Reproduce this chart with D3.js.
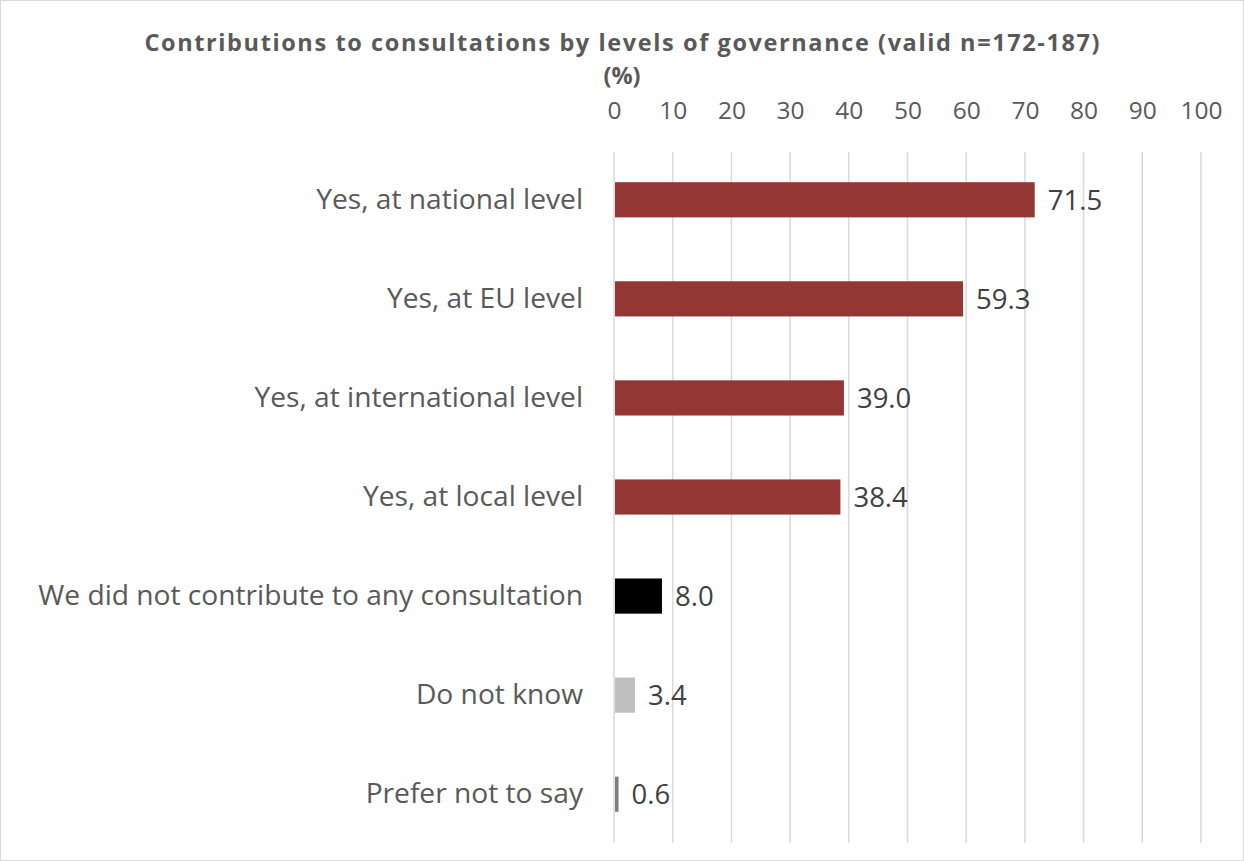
<!DOCTYPE html>
<html><head><meta charset="utf-8">
<script src="https://cdn.jsdelivr.net/npm/d3@7"></script>
<style>html,body{margin:0;padding:0;background:#fff}</style>
</head><body>
<svg id="c" width="1244" height="861"></svg>
<script>
const categories = ["Yes, at national level","Yes, at EU level","Yes, at international level","Yes, at local level","We did not contribute to any consultation","Do not know","Prefer not to say"];
const values = [71.5,59.3,39.0,38.4,8.0,3.4,0.6];
const barColors = ["#943634","#943634","#943634","#943634","#000000","#bfbfbf","#7f7f7f"];
const ticks = [0,10,20,30,40,50,60,70,80,90,100];
const titleLines = ["Contributions to consultations by levels of governance (valid n=172-187)","(%)"];

const svg = d3.select("#c");
svg.append("rect").attr("x",0.5).attr("y",0.5).attr("width",1243).attr("height",860).attr("fill","#fff").attr("stroke","#d9d9d9");

const x = d3.scaleLinear().domain([0,100]).range([614,1201]);
const y = d3.scaleBand().domain(categories).range([150.5,843.5]).paddingInner(0.645).paddingOuter(0.32);

const font = "'Open Sans', sans-serif";
const textColor = "#595959";
// gridlines
svg.append("g").selectAll("line").data(ticks).join("line")
  .attr("x1",d=>x(d)).attr("x2",d=>x(d)).attr("y1",152).attr("y2",843)
  .attr("stroke","#d9d9d9").attr("stroke-width",1.5);

// top axis
const ax = svg.append("g").attr("transform","translate(0,119)")
  .call(d3.axisTop(x).tickValues(ticks).tickSize(0).tickPadding(0));
ax.select(".domain").remove();
ax.selectAll("text").attr("font-family",font).attr("font-size",24.5).attr("fill",textColor);

// bars
svg.append("g").selectAll("rect").data(values).join("rect")
  .attr("x",x(0)+1).attr("y",(d,i)=>y(categories[i]))
  .attr("width",d=>x(d)-x(0)).attr("height",y.bandwidth())
  .attr("fill",(d,i)=>barColors[i]);

// value labels
svg.append("g").selectAll("text").data(values).join("text")
  .attr("x",d=>x(d)+14).attr("y",(d,i)=>y(categories[i])+y.bandwidth()/2)
  .attr("dy","0.36em").attr("font-family",font).attr("font-size",27.5).attr("fill","#404040")
  .text(d=>d.toFixed(1));

// category labels
const ya = svg.append("g").attr("transform",`translate(${x(0)-31},0)`)
  .call(d3.axisLeft(y).tickSize(0).tickPadding(0));
ya.select(".domain").remove();
ya.selectAll("text").attr("font-family",font).attr("font-size",24).attr("fill",textColor);
const longest = ya.selectAll("text").filter(d=>d===categories[4]).node();
const fs = 24*545/longest.getComputedTextLength();
ya.selectAll("text").attr("font-size",fs);

// title
svg.append("g").selectAll("text").data(titleLines).join("text")
  .attr("x",622).attr("y",(d,i)=>i===0?51:84)
  .attr("text-anchor","middle").attr("font-family",font).attr("font-weight","bold")
  .attr("font-size",23.5).attr("fill",textColor)
  .attr("textLength",(d,i)=>i===0?955:null).attr("lengthAdjust",(d,i)=>i===0?"spacing":null)
  .text(d=>d);
</script>
</body></html>
